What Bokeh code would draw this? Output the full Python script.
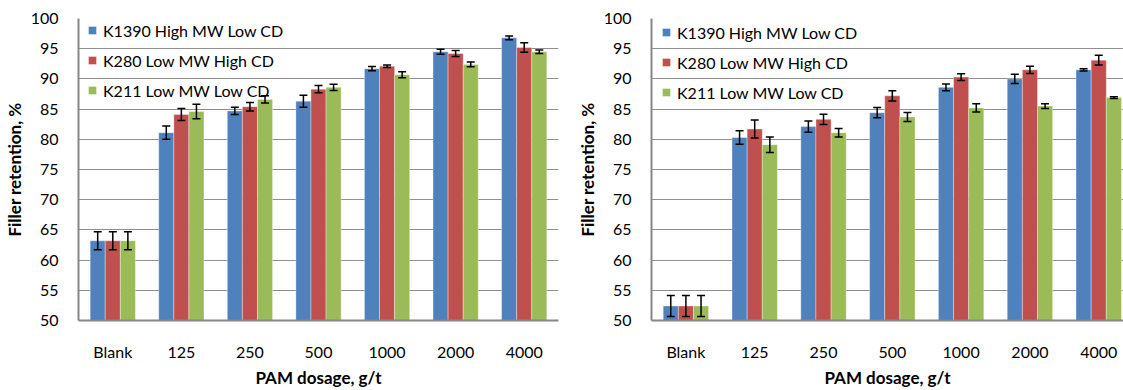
from bokeh.plotting import figure
from bokeh.models import (ColumnDataSource, Range1d, FixedTicker, Whisker, TeeHead,
                          Legend, LegendItem)
from bokeh.layouts import row
from bokeh.embed import file_html
from bokeh.resources import INLINE

# ---------------- data ----------------
categories = ["Blank", "125", "250", "500", "1000", "2000", "4000"]
series_names = ["K1390 High MW Low CD", "K280 Low MW High CD", "K211 Low MW Low CD"]
colors = ["#4F81BD", "#C0504D", "#9BBB59"]
y_ticks = [50, 55, 60, 65, 70, 75, 80, 85, 90, 95, 100]

# left chart
k1390_left = [63.2, 81.1, 84.7, 86.3, 91.7, 94.5, 96.8]
k1390_left_err = [1.5, 1.1, 0.6, 1.0, 0.35, 0.4, 0.3]
k280_left = [63.2, 84.1, 85.4, 88.3, 92.1, 94.2, 95.2]
k280_left_err = [1.5, 1.0, 0.7, 0.6, 0.2, 0.5, 0.8]
k211_left = [63.2, 84.6, 86.6, 88.6, 90.7, 92.4, 94.5]
k211_left_err = [1.5, 1.2, 0.6, 0.5, 0.5, 0.4, 0.3]

# right chart
k1390_right = [52.4, 80.3, 82.1, 84.4, 88.6, 90.0, 91.5]
k1390_right_err = [1.75, 1.1, 0.95, 0.85, 0.55, 0.75, 0.2]
k280_right = [52.4, 81.7, 83.3, 87.2, 90.3, 91.5, 93.1]
k280_right_err = [1.75, 1.5, 0.85, 0.85, 0.55, 0.6, 0.8]
k211_right = [52.4, 79.1, 81.1, 83.7, 85.2, 85.5, 86.9]
k211_right_err = [1.75, 1.3, 0.7, 0.75, 0.7, 0.4, 0.15]

x_title = "PAM dosage, g/t"
y_title = "Filler retention, %"

FONT = "Lato"
BAR_W = 0.22


def make_chart(values, errors, width, border_left, border_right, x_end, legend_x, legend_y):
    p = figure(width=width, height=390,
               x_range=Range1d(-0.5, x_end), y_range=Range1d(y_ticks[0], y_ticks[-1]),
               output_backend="svg", toolbar_location=None,
               min_border_left=border_left, min_border_right=border_right,
               min_border_top=18, min_border_bottom=67)
    p.outline_line_color = None
    p.background_fill_color = "white"
    p.border_fill_color = "white"

    # grid
    p.xgrid.visible = False
    p.ygrid.ticker = FixedTicker(ticks=y_ticks)
    p.ygrid.grid_line_color = "#8f8f8f"
    p.ygrid.grid_line_width = 1.2

    items = []
    n = len(values)
    for k, (vals, errs) in enumerate(zip(values, errors)):
        offset = (k - (n - 1) / 2) * BAR_W
        xs = [i + offset for i in range(len(categories))]
        src = ColumnDataSource(dict(
            x=xs, top=vals,
            upper=[v + e for v, e in zip(vals, errs)],
            lower=[v - e for v, e in zip(vals, errs)],
        ))
        r = p.vbar(x="x", top="top", bottom=y_ticks[0], width=BAR_W, source=src,
                   fill_color=colors[k], line_color="white", line_alpha=0.35, line_width=1)
        w = Whisker(source=src, base="x", upper="upper", lower="lower",
                    line_color="black", line_width=1.5, level="annotation",
                    upper_head=TeeHead(size=8, line_color="black", line_width=1.5),
                    lower_head=TeeHead(size=8, line_color="black", line_width=1.5))
        p.add_layout(w)
        items.append(LegendItem(label=series_names[k], renderers=[r]))

    legend = Legend(items=items, location=(legend_x, legend_y),
                    padding=0, margin=0, spacing=10,
                    glyph_width=10, glyph_height=10, label_height=20,
                    label_standoff=6,
                    label_text_font=FONT, label_text_font_size="16px",
                    label_text_color="black",
                    background_fill_alpha=0, border_line_color=None)
    p.add_layout(legend)

    # y axis
    p.yaxis.ticker = FixedTicker(ticks=y_ticks)
    p.yaxis.axis_line_color = "#868686"
    p.yaxis.axis_line_width = 2
    p.yaxis.major_tick_line_color = None
    p.yaxis.minor_tick_line_color = None
    p.yaxis.major_label_standoff = 14
    p.yaxis.major_label_text_font = FONT
    p.yaxis.major_label_text_font_size = "16px"
    p.yaxis.major_label_text_color = "black"
    p.yaxis.axis_label = y_title
    p.yaxis.axis_label_text_font = FONT
    p.yaxis.axis_label_text_font_size = "17px"
    p.yaxis.axis_label_text_font_style = "bold"
    p.yaxis.axis_label_text_color = "black"
    p.yaxis.axis_label_standoff = 3

    # x axis
    p.xaxis.ticker = FixedTicker(ticks=list(range(len(categories))))
    p.xaxis.major_label_overrides = {i: c for i, c in enumerate(categories)}
    p.xaxis.axis_line_color = "#868686"
    p.xaxis.axis_line_width = 2
    p.xaxis.major_tick_line_color = None
    p.xaxis.minor_tick_line_color = None
    p.xaxis.major_label_standoff = 15
    p.xaxis.major_label_text_font = FONT
    p.xaxis.major_label_text_font_size = "16px"
    p.xaxis.major_label_text_color = "black"
    p.xaxis.axis_label = x_title
    p.xaxis.axis_label_text_font = FONT
    p.xaxis.axis_label_text_font_size = "17px"
    p.xaxis.axis_label_text_font_style = "bold"
    p.xaxis.axis_label_text_color = "black"
    p.xaxis.axis_label_standoff = 3
    return p


p1 = make_chart([k1390_left, k280_left, k211_left],
                [k1390_left_err, k280_left_err, k211_left_err],
                width=570, border_left=78, border_right=12, x_end=6.5,
                legend_x=9, legend_y=220)
p2 = make_chart([k1390_right, k280_right, k211_right],
                [k1390_right_err, k280_right_err, k211_right_err],
                width=553, border_left=81, border_right=0, x_end=6.36,
                legend_x=10, legend_y=218)

layout = row(p1, p2)
open("out.html", "w").write(file_html(layout, INLINE))
